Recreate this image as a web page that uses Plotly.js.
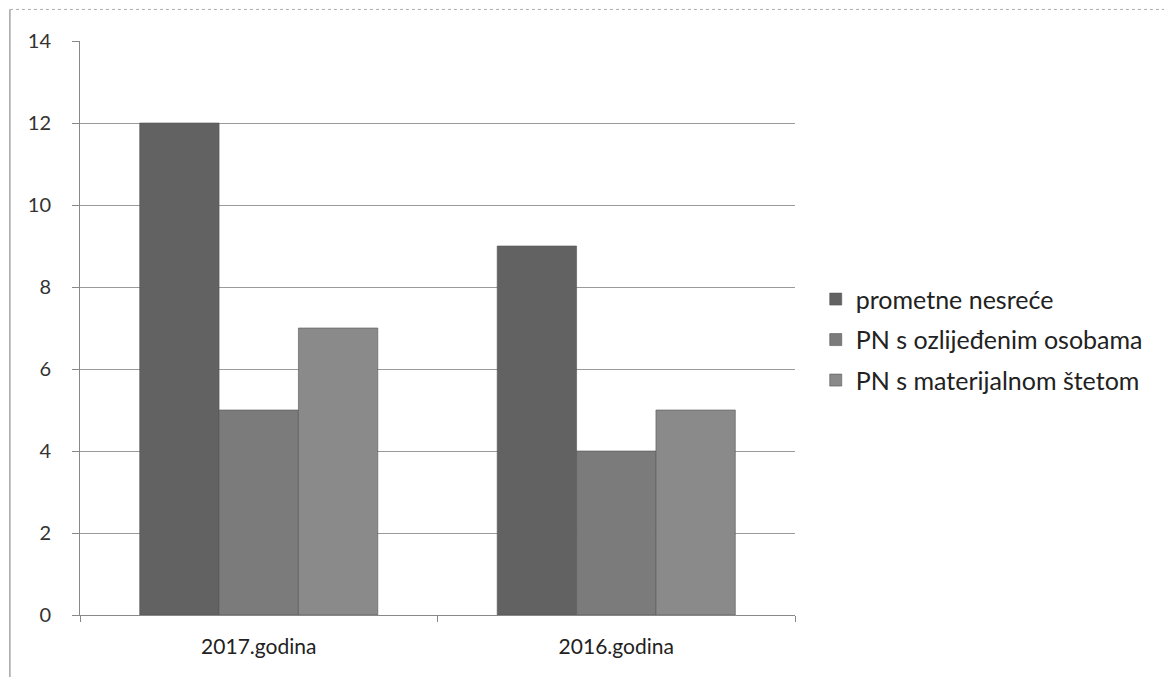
<!DOCTYPE html>
<html>
<head>
<meta charset="utf-8">
<script src="https://cdn.plot.ly/plotly-3.0.1.min.js"></script>
<style>html,body{margin:0;padding:0;background:#fff;}#chart{width:1164px;height:677px;}</style>
</head>
<body>
<div id="chart"></div>
<script>
const categories = ["2017.godina", "2016.godina"];
const seriesNames = ["prometne nesreće", "PN s ozlijeđenim osobama", "PN s materijalnom štetom"];
const prometneNesrece = [12, 9];
const ozlijedjeneOsobe = [5, 4];
const materijalnaSteta = [7, 5];
const yTicks = [0, 2, 4, 6, 8, 10, 12, 14];

const values = [prometneNesrece, ozlijedjeneOsobe, materijalnaSteta];
const colors = ["#626262", "#7b7b7b", "#8a8a8a"];
const traces = values.map((v, i) => ({
  type: "bar",
  name: seriesNames[i],
  x: categories,
  y: v,
  legendgroup: "g" + i,
  marker: {color: colors[i], line: {width: 0.6, color: "#555"}}
}));

const font = "Lato, 'Open Sans', 'DejaVu Sans', sans-serif";
const layout = {
  width: 1164, height: 677,
  margin: {l: 80, r: 369, t: 41, b: 62},
  paper_bgcolor: "#ffffff", plot_bgcolor: "#ffffff",
  barmode: "group", bargap: 0.334, bargroupgap: 0,
  font: {family: font, size: 20, color: "#333"},
  showlegend: true,
  legend: {x: 1.029, y: 0.59, xanchor: "left", yanchor: "top",
           font: {family: font, size: 25, color: "#222"}, tracegroupgap: 5,
           bgcolor: "rgba(0,0,0,0)"},
  xaxis: {type: "category", showgrid: false, showline: true, linecolor: "#888", linewidth: 1,
          ticks: "outside", tickson: "boundaries", ticklen: 6, tickcolor: "#888",
          ticklabelstandoff: 13,
          tickfont: {family: font, size: 21, color: "#222"}, fixedrange: true},
  yaxis: {range: [0, 14], tickvals: yTicks, showgrid: true, gridcolor: "#9a9a9a", gridwidth: 1,
          showline: true, linecolor: "#888", linewidth: 1, ticks: "outside", ticklen: 7,
          tickcolor: "#888", zeroline: false, ticklabelstandoff: 17,
          tickfont: {family: font, size: 20, color: "#333"}, fixedrange: true},
  shapes: [
    {type: "line", xref: "paper", yref: "paper", x0: -0.098, x1: -0.098, y0: 1.055, y1: -0.2, line: {color: "#777", width: 1}},
    {type: "line", xref: "paper", yref: "paper", x0: -0.098, x1: 1.52, y0: 1.055, y1: 1.055, line: {color: "#aaa", width: 1, dash: "dot"}}
  ]
};
Plotly.newPlot("chart", traces, layout, {displayModeBar: false, staticPlot: true});
</script>
</body>
</html>
